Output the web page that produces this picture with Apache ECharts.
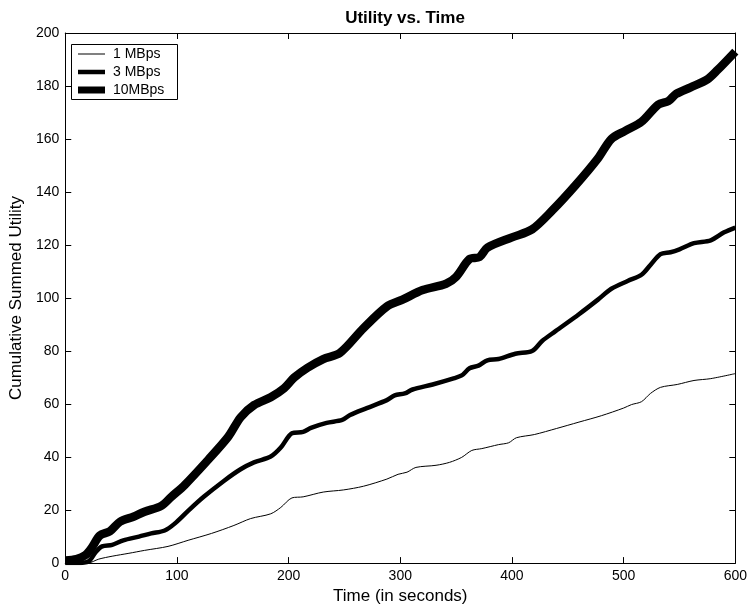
<!DOCTYPE html>
<html>
<head>
  <meta charset="utf-8">
</head>
<body style="margin: 0; background: #fff">
  <div id="container" style="width: 750px; height: 610px"></div>
  <script type="text/javascript" src="https://fastly.jsdelivr.net/npm/echarts@6/dist/echarts.min.js"></script>
  <script type="text/javascript">
    // data
    var seriesNames = ['1 MBps', '3 MBps', '10MBps'];

    var t1 = [0, 20, 30, 42, 57, 71, 92, 110, 131, 151, 166, 184, 193, 203, 213, 231, 249, 267, 288, 298, 306, 314, 332, 344, 355, 364, 373, 388, 397, 404, 420, 440, 460, 480, 500, 507, 516, 524, 533, 548, 563, 578, 600];
    var v1 = [0, 0, 1.5, 2.6, 3.7, 4.8, 6.3, 8.6, 11.2, 14.2, 16.8, 18.6, 21, 24.6, 25, 26.8, 27.6, 29, 31.7, 33.5, 34.3, 36.1, 36.9, 38, 39.9, 42.5, 43.2, 44.7, 45.4, 47.3, 48.5, 50.8, 53.2, 55.6, 58.5, 59.8, 60.9, 64, 66.3, 67.4, 68.9, 69.6, 71.5];

    var t3 = [0, 10, 21, 27, 33, 42, 52, 66, 77, 89, 98, 110, 124, 142, 157, 169, 184, 193, 203, 213, 220, 234, 248, 255, 270, 288, 295, 304, 311, 329, 347, 355, 362, 370, 378, 388, 403, 418, 427, 439, 460, 477, 489, 504, 516, 524, 533, 542, 550, 563, 578, 590, 600];
    var v3 = [0, 0, 0.7, 4, 6.3, 6.9, 8.6, 10, 11.2, 12.3, 14.9, 19.7, 25, 31, 35.4, 38, 40.2, 43.6, 49, 49.5, 51, 52.9, 54, 55.9, 58.5, 61.5, 63.3, 64, 65.5, 67.4, 69.6, 70.8, 73.5, 74.5, 76.5, 77, 79, 80, 83.8, 87.5, 93.9, 99.4, 103.5, 106.5, 108.8, 112.5, 116.6, 117.3, 118.4, 120.7, 121.8, 124.8, 126.6];

    var t10 = [0, 10, 18, 24, 31, 40, 49, 61, 71, 86, 95, 107, 128, 146, 157, 169, 184, 196, 205, 217, 231, 246, 267, 288, 302, 320, 341, 350, 362, 371, 378, 400, 418, 436, 457, 477, 489, 501, 516, 531, 540, 547, 560, 575, 584, 600];
    var v10 = [1, 1.5, 3, 6, 10.4, 12, 15.6, 17.5, 19.4, 21.6, 25, 29.5, 39, 47.7, 55, 59.6, 62.6, 66, 70, 73.7, 77, 79.3, 88.6, 96.8, 99.4, 103, 105.4, 108, 114.7, 115.5, 119, 122.9, 125.9, 133, 142.6, 152.7, 160, 163, 166.5, 173, 174.3, 177, 179.5, 182.5, 186, 193];

    var lineWidths = [1, 4.5, 8.5];

    function pairs(ts, vs) {
      return ts.map(function (t, i) { return [t, vs[i]]; });
    }

    var font = "'Liberation Sans', Arial, sans-serif";
    var dom = document.getElementById('container');
    var myChart = echarts.init(dom, null, { renderer: 'canvas' });

    function tick() {
      return { show: true, inside: true, length: 6, lineStyle: { color: '#000', width: 1 } };
    }
    function axLine() {
      return { show: true, onZero: false, lineStyle: { color: '#000', width: 1 } };
    }

    var data = [pairs(t1, v1), pairs(t3, v3), pairs(t10, v10)];

    var legendTops = [47, 65, 83];
    var legends = seriesNames.map(function (name, i) {
      return {
        data: [name],
        left: 78,
        top: legendTops[i],
        padding: 0,
        icon: 'rect',
        itemWidth: 27,
        itemHeight: [1, 4.5, 7][i],
        itemGap: 0,
        selectedMode: false,
        z: 100,
        textStyle: { fontFamily: font, fontSize: 14, color: '#000', lineHeight: 14, padding: [0, 0, 0, 3] }
      };
    });

    var option = {
      animation: false,
      backgroundColor: '#fff',
      title: {
        text: 'Utility vs. Time',
        left: 400,
        textAlign: 'center',
        top: 5,
        textStyle: { fontFamily: font, fontSize: 17, fontWeight: 'bold', color: '#000' }
      },
      legend: legends,
      graphic: [{
        type: 'rect',
        left: 71,
        top: 44,
        shape: { width: 106, height: 55 },
        style: { fill: '#fff', stroke: '#000', lineWidth: 1 },
        z: 50
      }],
      grid: { left: 63, right: 12, top: 33, bottom: 40 },
      xAxis: [{
        type: 'value',
        min: 0,
        max: 600,
        interval: 100,
        name: 'Time (in seconds)',
        nameLocation: 'middle',
        nameGap: 21,
        nameTextStyle: { fontFamily: font, fontSize: 17, color: '#000' },
        axisLine: axLine(),
        axisTick: tick(),
        splitLine: { show: false },
        axisLabel: { fontFamily: font, fontSize: 14, color: '#000', margin: 6 }
      }, {
        type: 'value',
        position: 'top',
        min: 0,
        max: 600,
        interval: 100,
        axisLine: axLine(),
        axisTick: tick(),
        splitLine: { show: false },
        axisLabel: { show: false }
      }],
      yAxis: [{
        type: 'value',
        min: 0,
        max: 200,
        interval: 20,
        name: 'Cumulative Summed Utility',
        nameLocation: 'middle',
        nameGap: 36,
        nameTextStyle: { fontFamily: font, fontSize: 17, color: '#000' },
        axisLine: axLine(),
        axisTick: tick(),
        splitLine: { show: false },
        axisLabel: { fontFamily: font, fontSize: 14, color: '#000', margin: 6 }
      }, {
        type: 'value',
        position: 'right',
        min: 0,
        max: 200,
        interval: 20,
        axisLine: axLine(),
        axisTick: tick(),
        splitLine: { show: false },
        axisLabel: { show: false }
      }],
      series: seriesNames.map(function (name, i) {
        return {
          name: name,
          type: 'line',
          data: data[i],
          showSymbol: false,
          smooth: 0.3,
          color: '#000',
          lineStyle: { color: '#000', width: lineWidths[i], join: 'round', cap: 'butt' },
          z: 2 + i
        };
      })
    };

    myChart.setOption(option);
    window.addEventListener('resize', myChart.resize);
  </script>
</body>
</html>
